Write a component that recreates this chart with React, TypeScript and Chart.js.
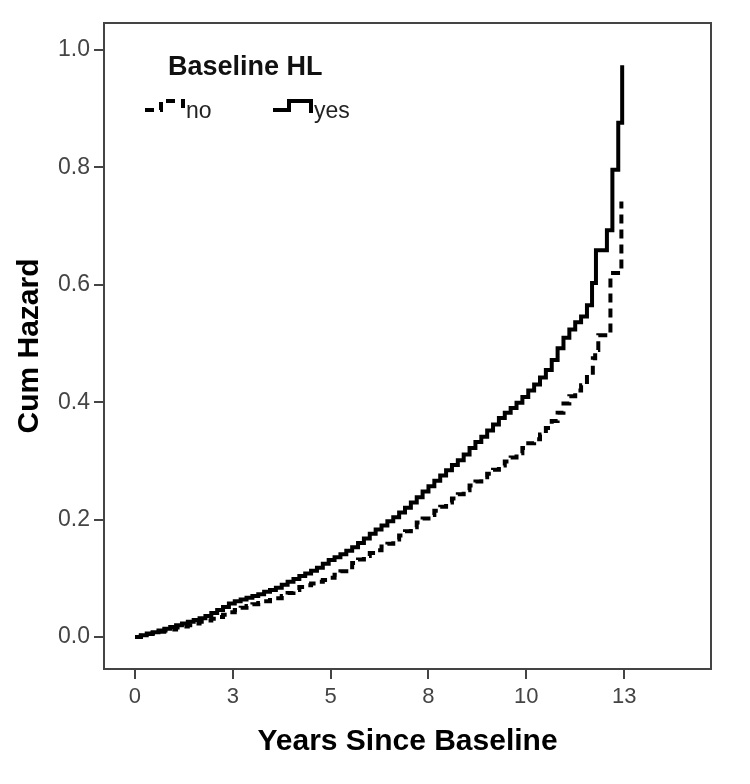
import { useEffect, useRef } from 'react';
import { Chart, registerables } from 'chart.js';

Chart.register(...registerables);

const legendTitle = 'Baseline HL';
const seriesNames = ['no', 'yes'];
const xAxisTitle = 'Years Since Baseline';
const yAxisTitle = 'Cum Hazard';

const xTickValues = [0, 2.5, 5, 7.5, 10, 12.5];
const xTickLabels = ['0', '3', '5', '8', '10', '13'];
const yTickValues = [0, 0.2, 0.4, 0.6, 0.8, 1.0];
const yTickLabels = ['0.0', '0.2', '0.4', '0.6', '0.8', '1.0'];

// Baseline HL = no (dashed)
const noTimes = [0, 0.15, 0.3, 0.45, 0.6, 0.75, 0.9, 1.05, 1.2, 1.35, 1.5, 1.65, 1.8, 1.95, 2.1, 2.25, 2.4, 2.55, 2.7, 2.85, 3.0, 3.15, 3.3, 3.45, 3.6, 3.75, 3.9, 4.05, 4.2, 4.35, 4.5, 4.65, 4.8, 4.95, 5.1, 5.25, 5.4, 5.55, 5.7, 5.85, 6.0, 6.15, 6.3, 6.45, 6.6, 6.75, 6.9, 7.05, 7.2, 7.35, 7.5, 7.65, 7.8, 7.95, 8.1, 8.25, 8.4, 8.55, 8.7, 8.85, 9.0, 9.15, 9.3, 9.45, 9.6, 9.75, 9.9, 10.05, 10.2, 10.35, 10.5, 10.65, 10.8, 10.95, 11.1, 11.25, 11.4, 11.55, 11.7, 11.76, 11.84, 12.15, 12.43];
const noHazard = [0, 0.002, 0.005, 0.007, 0.009, 0.011, 0.013, 0.016, 0.018, 0.02, 0.023, 0.026, 0.028, 0.031, 0.034, 0.038, 0.042, 0.046, 0.05, 0.053, 0.056, 0.058, 0.061, 0.063, 0.066, 0.07, 0.075, 0.08, 0.085, 0.088, 0.091, 0.094, 0.097, 0.101, 0.106, 0.112, 0.119, 0.126, 0.132, 0.138, 0.143, 0.148, 0.154, 0.159, 0.166, 0.173, 0.18, 0.187, 0.195, 0.202, 0.208, 0.215, 0.222, 0.229, 0.236, 0.243, 0.25, 0.258, 0.265, 0.272, 0.278, 0.285, 0.292, 0.299, 0.306, 0.313, 0.322, 0.33, 0.337, 0.345, 0.356, 0.368, 0.382, 0.398, 0.41, 0.42, 0.429, 0.45, 0.475, 0.489, 0.514, 0.62, 0.742];

// Baseline HL = yes (solid)
const yesTimes = [0, 0.15, 0.3, 0.45, 0.6, 0.75, 0.9, 1.05, 1.2, 1.35, 1.5, 1.65, 1.8, 1.95, 2.1, 2.25, 2.4, 2.55, 2.7, 2.85, 3.0, 3.15, 3.3, 3.45, 3.6, 3.75, 3.9, 4.05, 4.2, 4.35, 4.5, 4.65, 4.8, 4.95, 5.1, 5.25, 5.4, 5.55, 5.7, 5.85, 6.0, 6.15, 6.3, 6.45, 6.6, 6.75, 6.9, 7.05, 7.2, 7.35, 7.5, 7.65, 7.8, 7.95, 8.1, 8.25, 8.4, 8.55, 8.7, 8.85, 9.0, 9.15, 9.3, 9.45, 9.6, 9.75, 9.9, 10.05, 10.2, 10.35, 10.5, 10.65, 10.8, 10.95, 11.1, 11.25, 11.4, 11.55, 11.68, 11.78, 12.06, 12.2, 12.35, 12.45];
const yesHazard = [0, 0.003, 0.006, 0.008, 0.011, 0.014, 0.017, 0.02, 0.023, 0.026, 0.029, 0.032, 0.036, 0.041, 0.046, 0.051, 0.057, 0.061, 0.064, 0.067, 0.07, 0.073, 0.077, 0.08, 0.084, 0.089, 0.094, 0.099, 0.104, 0.108, 0.113, 0.118, 0.125, 0.131, 0.136, 0.141, 0.147, 0.153, 0.16, 0.168, 0.176, 0.183, 0.19, 0.197, 0.204, 0.212, 0.22, 0.229, 0.238, 0.248, 0.257, 0.266, 0.275, 0.284, 0.293, 0.301, 0.311, 0.322, 0.332, 0.341, 0.352, 0.362, 0.373, 0.382, 0.39, 0.399, 0.409, 0.42, 0.43, 0.442, 0.455, 0.472, 0.492, 0.51, 0.524, 0.536, 0.546, 0.565, 0.603, 0.659, 0.693, 0.796, 0.876, 0.974];

const FONT = '"Liberation Sans", Arial, sans-serif';
const DASH = [9, 6];

const framePlugin = {
  id: 'frameAndLegend',
  afterDraw(chart: any) {
    const { ctx, chartArea } = chart;
    const L = chartArea.left;
    const T = chartArea.top;
    ctx.save();
    // frame
    ctx.strokeStyle = '#444';
    ctx.lineWidth = 2;
    ctx.setLineDash([]);
    ctx.strokeRect(chartArea.left, chartArea.top, chartArea.right - chartArea.left, chartArea.bottom - chartArea.top);

    // legend title
    ctx.fillStyle = '#111';
    ctx.textBaseline = 'alphabetic';
    ctx.textAlign = 'left';
    ctx.font = `bold 27px ${FONT}`;
    ctx.fillText(legendTitle, L + 64, T + 52);

    // legend entries
    ctx.lineWidth = 4;
    ctx.strokeStyle = '#000';
    ctx.lineCap = 'butt';
    ctx.lineJoin = 'miter';
    const entries = [
      { x: L + 41, dash: DASH, label: seriesNames[0] },
      { x: L + 169, dash: [] as number[], label: seriesNames[1] },
    ];
    entries.forEach((e) => {
      ctx.setLineDash(e.dash);
      ctx.beginPath();
      ctx.moveTo(e.x, T + 87);
      ctx.lineTo(e.x + 16, T + 87);
      ctx.lineTo(e.x + 16, T + 78);
      ctx.lineTo(e.x + 38, T + 78);
      ctx.lineTo(e.x + 38, T + 90);
      ctx.stroke();
      ctx.setLineDash([]);
      ctx.fillStyle = '#222';
      ctx.font = `23px ${FONT}`;
      ctx.fillText(e.label, e.x + 41, T + 95);
    });
    ctx.restore();
  },
};

export default function App() {
  const canvasRef = useRef<HTMLCanvasElement | null>(null);

  useEffect(() => {
    const canvas = canvasRef.current;
    if (!canvas) return;
    const chart = new Chart(canvas, {
      type: 'line',
      data: {
        datasets: [
          {
            label: seriesNames[0],
            data: noTimes.map((t, i) => ({ x: t, y: noHazard[i] })),
            borderColor: '#000',
            borderWidth: 4,
            borderDash: DASH,
            borderCapStyle: 'butt',
            stepped: true,
            pointRadius: 0,
            fill: false,
          },
          {
            label: seriesNames[1],
            data: yesTimes.map((t, i) => ({ x: t, y: yesHazard[i] })),
            borderColor: '#000',
            borderWidth: 4,
            stepped: true,
            pointRadius: 0,
            fill: false,
          },
        ],
      },
      options: {
        animation: false,
        responsive: false,
        maintainAspectRatio: false,
        layout: { padding: { top: 23, right: 39, left: 0, bottom: 0 } },
        plugins: {
          legend: { display: false },
          tooltip: { enabled: false },
        },
        scales: {
          x: {
            type: 'linear',
            min: -0.792,
            max: 14.72,
            afterFit: (scale: any) => {
              scale.height = 115;
            },
            afterBuildTicks: (scale: any) => {
              scale.ticks = xTickValues.map((v) => ({ value: v }));
            },
            ticks: {
              autoSkip: false,
              maxRotation: 0,
              padding: 5,
              color: '#444',
              font: { family: FONT, size: 22 },
              callback: (v: any) => {
                const i = xTickValues.indexOf(Number(v));
                return i >= 0 ? xTickLabels[i] : '';
              },
            },
            grid: { display: true, drawOnChartArea: false, drawTicks: true, tickLength: 10, color: '#444', lineWidth: 2 },
            border: { display: false },
            title: {
              display: true,
              text: xAxisTitle,
              color: '#000',
              font: { family: FONT, size: 30, weight: 'bold' },
              padding: { top: 0, bottom: 24 },
            },
          },
          y: {
            type: 'linear',
            min: -0.0545,
            max: 1.046,
            afterFit: (scale: any) => {
              scale.width = 104;
            },
            afterBuildTicks: (scale: any) => {
              scale.ticks = yTickValues.map((v) => ({ value: v }));
            },
            ticks: {
              autoSkip: false,
              padding: 4,
              color: '#444',
              font: { family: FONT, size: 23 },
              callback: (v: any) => {
                const i = yTickValues.findIndex((t) => Math.abs(t - Number(v)) < 1e-9);
                return i >= 0 ? yTickLabels[i] : '';
              },
            },
            grid: { display: true, drawOnChartArea: false, drawTicks: true, tickLength: 10, color: '#444', lineWidth: 2 },
            border: { display: false },
            title: {
              display: true,
              text: yAxisTitle,
              color: '#000',
              font: { family: FONT, size: 30, weight: 'bold' },
              padding: { top: 12, bottom: 0 },
            },
          },
        },
      },
      plugins: [framePlugin],
    } as any);
    return () => chart.destroy();
  }, []);

  return (
    <div style={{ position: 'absolute', left: 0, top: 0, width: 750, height: 784, background: '#fff' }}>
      <canvas ref={canvasRef} width={750} height={784} style={{ display: 'block', width: 750, height: 784 }} />
    </div>
  );
}
